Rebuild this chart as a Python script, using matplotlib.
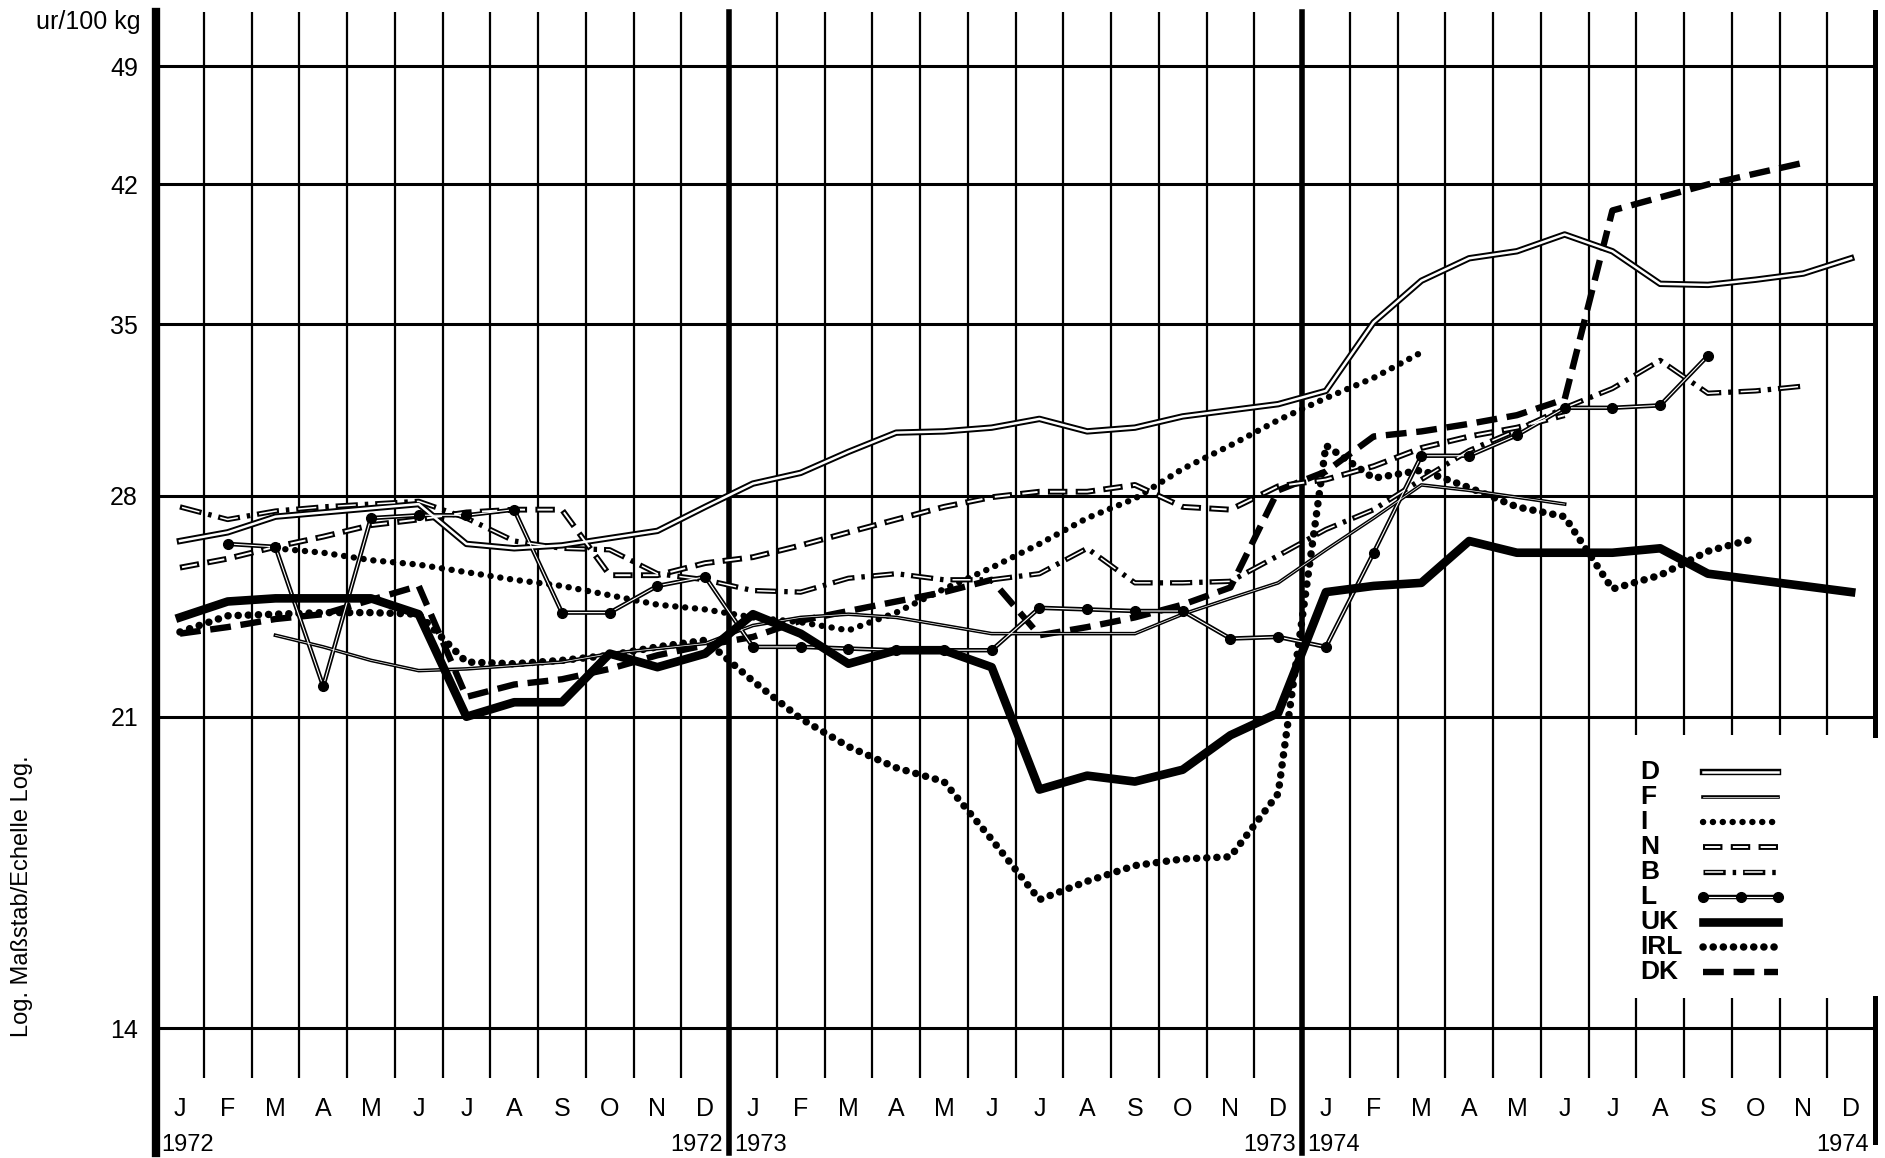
"""
Monthly prices 1972-1974 per country (log scale), scanned-chart recreation.
"""

import numpy as np
import matplotlib
matplotlib.use('Agg')
import matplotlib.pyplot as plt
import matplotlib.transforms as mtransforms
from matplotlib.patches import Rectangle

plt.rcParams['font.family'] = ['Liberation Sans', 'DejaVu Sans']
plt.rcParams['lines.scale_dashes'] = False  # dash lengths in points

nan = np.nan

# Data, one value per month Jan 1972 .. Dec 1974
month_letters = ['J', 'F', 'M', 'A', 'M', 'J', 'J', 'A', 'S', 'O', 'N', 'D']
years = ['1972', '1973', '1974']
y_ticks = [14, 21, 28, 35, 42, 49]
series_names = ['D', 'F', 'I', 'N', 'B', 'L', 'UK', 'IRL', 'DK']

D = [26.4, 26.7, 27.25, 27.4, 27.55, 27.7, 26.3, 26.15, 26.25, 26.5, 26.75, 27.6,
     28.45, 28.85, 29.65, 30.4, 30.45, 30.6, 30.95, 30.45, 30.6, 31.05, 31.3, 31.55,
     32.1, 35.1, 37.05, 38.15, 38.5, 39.35, 38.5, 36.9, 36.85, 37.1, 37.4, 38.15]
F = [nan, nan, 23.35, 23.0, 22.6, 22.3, 22.35, 22.45, 22.55, 22.8, 22.95, 23.1,
     23.65, 23.9, 24.0, 23.9, 23.65, 23.4, 23.4, 23.4, 23.4, 24.0, 24.5, 25.0,
     26.1, 27.2, 28.4, 28.2, 27.95, 27.7, nan, nan, nan, nan, nan, nan]
I = [nan, nan, 26.15, 26.0, 25.75, 25.6, 25.35, 25.1, 24.9, 24.6, 24.3, 24.15,
     23.9, 23.75, 23.5, 24.05, 24.8, 25.5, 26.3, 27.2, 27.9, 29.0, 29.9, 30.9,
     31.8, 32.65, 33.75, nan, nan, nan, nan, nan, nan, nan, nan, nan]
N = [25.5, 25.8, 26.2, 26.55, 26.95, 27.15, 27.4, 27.5, 27.5, 25.25, 25.25, 25.65,
     25.85, 26.25, 26.7, 27.15, 27.6, 27.95, 28.15, 28.15, 28.4, 27.6, 27.5, 28.35,
     28.6, 29.1, 29.8, 30.25, 30.6, 31.1, nan, nan, nan, nan, nan, nan]
B = [27.6, 27.15, 27.45, 27.6, 27.7, 27.8, 27.2, 26.4, 26.15, 26.1, 25.3, 25.1,
     24.75, 24.7, 25.15, 25.3, 25.1, 25.1, 25.3, 26.15, 25.0, 25.0, 25.05, 25.9,
     26.8, 27.5, 28.6, 29.7, 30.5, 31.4, 32.2, 33.4, 32.0, 32.1, 32.3, nan]
L = [nan, 26.3, 26.2, 21.85, 27.2, 27.3, 27.3, 27.5, 24.05, 24.05, 24.9, 25.2,
     23.0, 23.0, 22.95, 22.9, 22.9, 22.9, 24.2, 24.15, 24.1, 24.1, 23.25, 23.3,
     23.0, 26.0, 29.5, 29.5, 30.3, 31.4, 31.4, 31.5, 33.6, nan, nan, nan]
UK = [23.9, 24.4, 24.5, 24.5, 24.5, 24.0, 21.0, 21.4, 21.4, 22.8, 22.4, 22.8,
      24.0, 23.4, 22.5, 22.9, 22.9, 22.4, 19.1, 19.45, 19.3, 19.6, 20.5, 21.1,
      24.7, 24.9, 25.0, 26.4, 26.0, 26.0, 26.0, 26.15, 25.3, 25.1, 24.9, 24.7]
IRL = [23.45, 23.95, 24.0, 24.05, 24.05, 24.0, 22.55, 22.5, 22.6, 22.75, 23.0, 23.2,
       22.0, 20.95, 20.2, 19.65, 19.3, 17.9, 16.55, 16.95, 17.3, 17.45, 17.5, 19.0,
       29.9, 28.65, 28.95, 28.3, 27.6, 27.25, 24.8, 25.25, 26.05, 26.5, nan, nan]
DK = [23.4, 23.6, 23.85, 24.0, 24.45, 24.9, 21.55, 21.9, 22.05, 22.35, 22.75, 23.05,
      23.3, 23.8, 24.1, 24.4, 24.7, 25.1, 23.35, 23.6, 23.9, 24.3, 24.85, 28.2,
      28.9, 30.25, 30.45, 30.75, 31.1, 31.75, 40.6, 41.3, 42.0, 42.6, 43.2, nan]

series_values = [D, F, I, N, B, L, UK, IRL, DK]
months = np.arange(36)


def draw(ax, x, y, name, **kw):
    """Draw one series in its line style (used for data and legend keys)."""
    if name == 'D':
        ax.plot(x, y, color='black', lw=4.6, solid_joinstyle='round', zorder=4, **kw)
        ax.plot(x, y, color='white', lw=1.8, solid_joinstyle='round', zorder=4.1, **kw)
    elif name == 'F':
        ax.plot(x, y, color='black', lw=2.6, solid_joinstyle='round', zorder=4, **kw)
        ax.plot(x, y, color='white', lw=0.5, solid_joinstyle='round', zorder=4.1, **kw)
    elif name == 'I':
        ax.plot(x, y, color='black', lw=4.6, linestyle=(0, (0.1, 7.0)),
                dash_capstyle='round', zorder=4, **kw)
    elif name == 'N':
        ax.plot(x, y, color='black', lw=4.2, linestyle=(0, (14, 6)), zorder=4, **kw)
        ax.plot(x, y, color='white', lw=1.4, linestyle=(18.5, (11, 9)), zorder=4.1, **kw)
    elif name == 'B':
        ax.plot(x, y, color='black', lw=3.8, linestyle=(0, (16, 5, 2.5, 5)), zorder=4, **kw)
        ax.plot(x, y, color='white', lw=1.1, linestyle=(27.0, (13, 15.5)), zorder=4.1, **kw)
    elif name == 'L':
        ax.plot(x, y, color='black', lw=3.2, solid_joinstyle='round', zorder=4, **kw)
        ax.plot(x, y, color='white', lw=0.8, solid_joinstyle='round', zorder=4.1, **kw)
        ax.plot(x, y, color='black', linestyle='none', marker='o', ms=7, zorder=4.2, **kw)
    elif name == 'UK':
        ax.plot(x, y, color='black', lw=6.2, solid_joinstyle='round', zorder=4.5, **kw)
    elif name == 'IRL':
        ax.plot(x, y, color='black', lw=5.4, linestyle=(0, (0.1, 7.2)),
                dash_capstyle='round', zorder=4, **kw)
    elif name == 'DK':
        ax.plot(x, y, color='black', lw=4.6, linestyle=(0, (15, 7)), zorder=4, **kw)


fig = plt.figure(figsize=(18.85, 11.58), dpi=100)
ax = fig.add_axes([0.0828, 0.0691, 0.9119, 0.9205])
ax.set_yscale('log')
ax.set_xlim(-0.5, 35.5)
ax.set_ylim(13.12, 52.57)
for s in ax.spines.values():
    s.set_visible(False)

# grid
for k in range(1, 36):
    if k % 12 != 0:
        ax.axvline(k - 0.5, color='black', lw=1.6, zorder=1)
for v in y_ticks:
    ax.axhline(v, color='black', lw=2.2, zorder=1)

# left axis and year dividers reach down to the year labels
ax.axvline(-0.5, ymin=-0.0704, ymax=1, color='black', lw=6.0, clip_on=False, zorder=3)
ax.axvline(11.5, ymin=-0.0704, ymax=1, color='black', lw=4.0, clip_on=False, zorder=3)
ax.axvline(23.5, ymin=-0.0704, ymax=1, color='black', lw=4.0, clip_on=False, zorder=3)
ax.axvline(35.5, ymin=0.3218, ymax=1, color='black', lw=3.6, clip_on=False, zorder=3)
ax.axvline(35.5, ymin=-0.06, ymax=0.075, color='black', lw=3.6, clip_on=False, zorder=3)

# white panel behind the legend
trans = mtransforms.blended_transform_factory(ax.transData, ax.transAxes)
ax.add_patch(Rectangle((29.55, 0.075), 6.5, 0.2468, transform=trans,
                       facecolor='white', edgecolor='none', clip_on=False, zorder=2))

# y axis
ax.set_yticks(y_ticks)
ax.set_yticklabels([str(v) for v in y_ticks])
ax.yaxis.set_minor_locator(matplotlib.ticker.NullLocator())
ax.tick_params(axis='y', length=3, width=1, pad=10, labelsize=18)
ax.set_xticks([])

# month and year labels under the grid
for k in range(36):
    ax.text(k, -0.029, month_letters[k % 12], transform=trans, ha='center',
            va='center', fontsize=18)
for j, yr in enumerate(years):
    ax.text(12 * j - 0.5 + 0.1, -0.063, yr, transform=trans, ha='left',
            va='center', fontsize=17)
    ax.text(12 * j + 11.5 - 0.12, -0.063, yr, transform=trans, ha='right',
            va='center', fontsize=17)

# series
for name, vals in zip(series_names, series_values):
    draw(ax, months, vals, name)

# legend (drawn by hand: labels left, keys right)
x_txt, x0, x1 = 0.8633, 0.900, 0.9436
for i, name in enumerate(series_names):
    yy = 0.2871 - i * 0.02345
    ax.text(x_txt, yy, name, transform=ax.transAxes, ha='left', va='center',
            fontsize=19, fontweight='bold', zorder=6)
    if name == 'L':
        kx = [x0, (x0 + x1) / 2, x1]
    else:
        kx = [x0, x1]
    draw(ax, kx, [yy] * len(kx), name, transform=ax.transAxes, clip_on=False)

fig.text(140 / 1885, 1 - 22 / 1158, 'ur/100 kg', ha='right', va='center', fontsize=18)
fig.text(22 / 1885, 1 - 896 / 1158, 'Log. Maßstab/Echelle Log.', rotation=90,
         ha='center', va='center', fontsize=17)

fig.savefig('out.png', dpi=100)
